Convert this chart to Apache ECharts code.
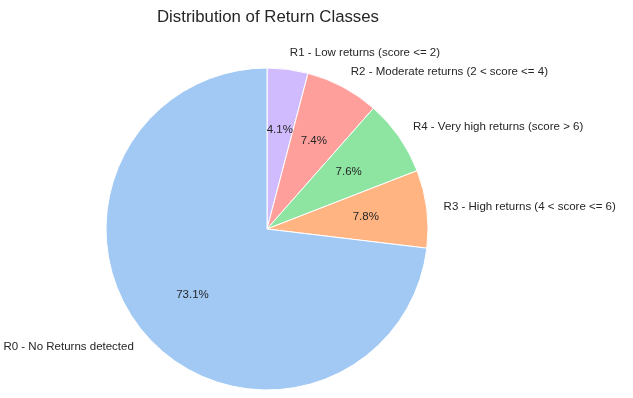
<!DOCTYPE html>
<html>
<head>
<meta charset="utf-8">
<script src="https://cdn.jsdelivr.net/npm/echarts@6/dist/echarts.min.js"></script>
<style>
  html, body { margin: 0; padding: 0; background: #fff; }
  #chart { width: 633px; height: 398px; }
</style>
</head>
<body>
<div id="chart"></div>
<script>
// classes, clockwise from 12 o'clock
const classNames = [
    'R1 - Low returns (score <= 2)',
    'R2 - Moderate returns (2 < score <= 4)',
    'R4 - Very high returns (score > 6)',
    'R3 - High returns (4 < score <= 6)',
    'R0 - No Returns detected'
];
const classShares = [4.1, 7.4, 7.6, 7.8, 73.1];
const classColors = ['#d0bbff', '#ff9f9b', '#8de5a1', '#ffb482', '#a1c9f4'];

const R = 161;
const center = [267, 229];

const chart = echarts.init(document.getElementById('chart'));

const pieData = classNames.map((name, i) => ({
    name: name,
    value: classShares[i],
    itemStyle: { color: classColors[i] }
}));

const option = {
    backgroundColor: '#fff',
    animation: false,
    title: {
        text: 'Distribution of Return Classes',
        left: 152,
        top: 4,
        textStyle: {
            fontFamily: 'Liberation Sans',
            fontSize: 16.8,
            fontWeight: 'normal',
            color: '#262626'
        }
    },
    series: [
        {
            // wedges + class labels outside
            type: 'pie',
            center: center,
            radius: [0, R],
            startAngle: 90,
            clockwise: true,
            avoidLabelOverlap: false,
            itemStyle: { borderColor: '#fff', borderWidth: 1 },
            label: {
                show: true,
                position: 'outside',
                formatter: '{b}',
                fontFamily: 'Liberation Sans',
                fontSize: 11.5,
                color: '#262626',
                distanceToLabelLine: 0
            },
            labelLine: { show: false, length: 17, length2: 0 },
            emphasis: { scale: false },
            data: pieData
        },
        {
            // percentage labels at 0.6 R
            type: 'pie',
            center: center,
            radius: [0, R * 1.2],
            startAngle: 90,
            clockwise: true,
            silent: true,
            avoidLabelOverlap: false,
            itemStyle: { color: 'rgba(0,0,0,0)' },
            label: {
                show: true,
                position: 'inside',
                formatter: p => p.value.toFixed(1) + '%',
                fontFamily: 'Liberation Sans',
                fontSize: 11.5,
                color: '#262626'
            },
            labelLine: { show: false },
            data: classNames.map((name, i) => ({ name: name, value: classShares[i] }))
        }
    ]
};

chart.setOption(option);
</script>
</body>
</html>
